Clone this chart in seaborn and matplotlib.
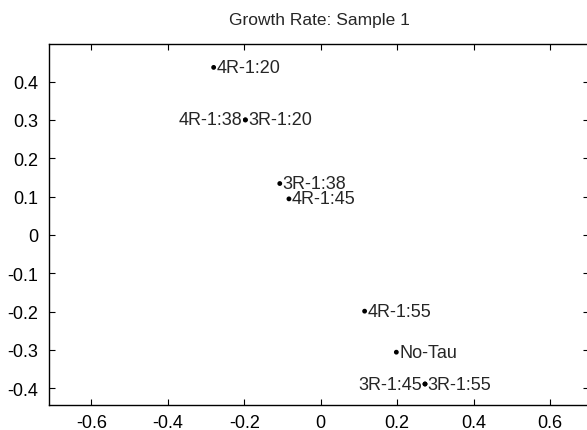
import pandas as pd
import matplotlib
matplotlib.use("Agg")
import matplotlib.pyplot as plt
import seaborn as sns

# data
names = ["4R-1:20", "4R-1:38", "3R-1:20", "3R-1:38", "4R-1:45",
         "4R-1:55", "No-Tau", "3R-1:45", "3R-1:55"]
xs = [-0.280, -0.197, -0.197, -0.107, -0.083, 0.115, 0.198, 0.273, 0.273]
ys = [0.437, 0.300, 0.300, 0.134, 0.094, -0.199, -0.306, -0.389, -0.389]
x_ticks = [-0.6, -0.4, -0.2, 0, 0.2, 0.4, 0.6]
y_ticks = [-0.4, -0.3, -0.2, -0.1, 0, 0.1, 0.2, 0.3, 0.4]

# labels drawn on the left side of their point
left_side = {"4R-1:38", "3R-1:45"}

df = pd.DataFrame({"name": names, "x": xs, "y": ys})

sns.set_style("ticks")
plt.rcParams["font.family"] = ["Liberation Sans", "DejaVu Sans"]

fig = plt.figure(figsize=(5.87, 4.31), dpi=100)
ax = fig.add_axes([0.084, 0.0587, 0.920, 0.836])

sns.scatterplot(data=df, x="x", y="y", color="black", s=12,
                edgecolor="none", ax=ax, legend=False)

for _, row in df.iterrows():
    if row["name"] in left_side:
        ax.annotate(row["name"], (row["x"], row["y"]), xytext=(-2, 0),
                    textcoords="offset points", ha="right", va="center",
                    fontsize=13)
    else:
        ax.annotate(row["name"], (row["x"], row["y"]), xytext=(2, 0),
                    textcoords="offset points", ha="left", va="center",
                    fontsize=13)

ax.set_xlim(-0.71, 0.703)
ax.set_ylim(-0.443, 0.497)
ax.set_xticks(x_ticks)
ax.set_yticks(y_ticks)
ax.set_xticklabels([f"{v:g}" for v in x_ticks])
ax.set_yticklabels([f"{v:g}" for v in y_ticks])
ax.set_xlabel("")
ax.set_ylabel("")
ax.tick_params(direction="in", length=4, width=0.8, top=True, right=True,
               labelsize=13, colors="black")
ax.tick_params(axis="y", pad=8)
ax.tick_params(axis="x", pad=7)
for sp in ax.spines.values():
    sp.set_linewidth(1.0)
    sp.set_color("black")

ax.set_title("Growth Rate: Sample 1", fontsize=12.5, pad=14.5)

fig.savefig("out.png", dpi=100)
